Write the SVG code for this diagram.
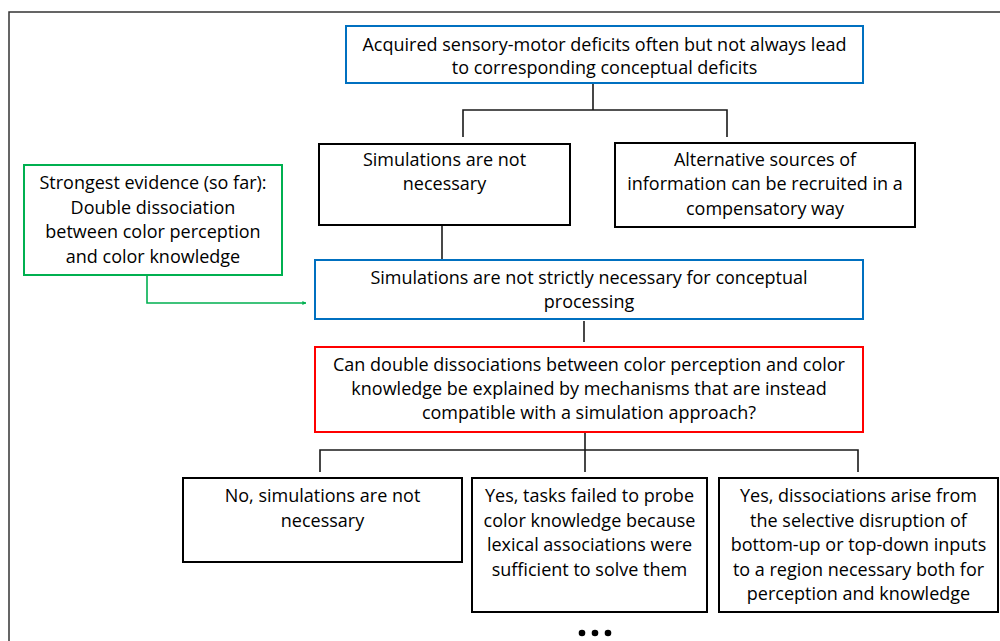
<svg xmlns="http://www.w3.org/2000/svg" width="1000" height="641" viewBox="0 0 1000 641">
<defs>
<style>
text{font-family:"Open Sans","Noto Sans","Liberation Sans",sans-serif;font-size:18px;fill:#000;text-anchor:middle}
.blk{fill:#fff;stroke:#000;stroke-width:2}
.blu{fill:#fff;stroke:#0070C0;stroke-width:2}
.red{fill:#fff;stroke:#FF0000;stroke-width:2}
.grn{fill:#fff;stroke:#00B050;stroke-width:2}
.con{fill:none;stroke:#1a1a1a;stroke-width:1.6}
</style>
<marker id="ga" viewBox="0 0 10 10" refX="9" refY="5" markerWidth="4" markerHeight="4" orient="auto" markerUnits="userSpaceOnUse"><path d="M0,0 L10,5 L0,10 z" fill="#00B050"/></marker>
</defs>
<rect width="1000" height="641" fill="#fff"/>
<path d="M9,641 V12 H1000" fill="none" stroke="#333" stroke-width="1.5"/>
<g id="connectors">
<path class="con" d="M593,83 V110 M463,137 V110 H727 V137"/>
<path class="con" d="M442,225 V260"/>
<path class="con" d="M584,321 V342"/>
<path class="con" d="M320,472 V450 H858 V472 M585,432 V472"/>
<path d="M147,275 V303 H306" fill="none" stroke="#00B050" stroke-width="1.6" marker-end="url(#ga)"/>
</g>
<g id="top">
<rect class="blu" x="346" y="26" width="517" height="57"/>
<text x="604.5" y="51">Acquired sensory-motor deficits often but not always lead</text>
<text x="604.5" y="74">to corresponding conceptual deficits</text>
</g>
<g id="notNecessary">
<rect class="blk" x="319" y="144" width="251" height="81"/>
<text x="444.5" y="166">Simulations are not</text>
<text x="444.5" y="190">necessary</text>
</g>
<g id="alternative">
<rect class="blk" x="615" y="143" width="300" height="84"/>
<text x="765" y="166">Alternative sources of</text>
<text x="765" y="190">information can be recruited in a</text>
<text x="765" y="215">compensatory way</text>
</g>
<g id="evidence">
<rect class="grn" x="24" y="165" width="258" height="110"/>
<text x="153" y="189">Strongest evidence (so far):</text>
<text x="153" y="214">Double dissociation</text>
<text x="153" y="238">between color perception</text>
<text x="153" y="263">and color knowledge</text>
</g>
<g id="notStrictly">
<rect class="blu" x="315" y="260" width="548" height="59"/>
<text x="589" y="284">Simulations are not strictly necessary for conceptual</text>
<text x="589" y="308">processing</text>
</g>
<g id="question">
<rect class="red" x="315" y="347" width="548" height="85"/>
<text x="589" y="371">Can double dissociations between color perception and color</text>
<text x="589" y="395">knowledge be explained by mechanisms that are instead</text>
<text x="589" y="419">compatible with a simulation approach?</text>
</g>
<g id="no">
<rect class="blk" x="183" y="478" width="279" height="84"/>
<text x="322.5" y="502">No, simulations are not</text>
<text x="322.5" y="527">necessary</text>
</g>
<g id="lexical">
<rect class="blk" x="472" y="478" width="235" height="134"/>
<text x="589.5" y="502">Yes, tasks failed to probe</text>
<text x="589.5" y="527">color knowledge because</text>
<text x="589.5" y="551">lexical associations were</text>
<text x="589.5" y="576">sufficient to solve them</text>
</g>
<g id="disruption">
<rect class="blk" x="719" y="478" width="279" height="134"/>
<text x="858.5" y="502">Yes, dissociations arise from</text>
<text x="858.5" y="527">the selective disruption of</text>
<text x="858.5" y="551">bottom-up or top-down inputs</text>
<text x="858.5" y="576">to a region necessary both for</text>
<text x="858.5" y="600">perception and knowledge</text>
</g>
<g id="ellipsis" fill="#000">
<circle cx="582" cy="633" r="3.3"/>
<circle cx="595" cy="633" r="3.3"/>
<circle cx="608" cy="633" r="3.3"/>
</g>
</svg>
